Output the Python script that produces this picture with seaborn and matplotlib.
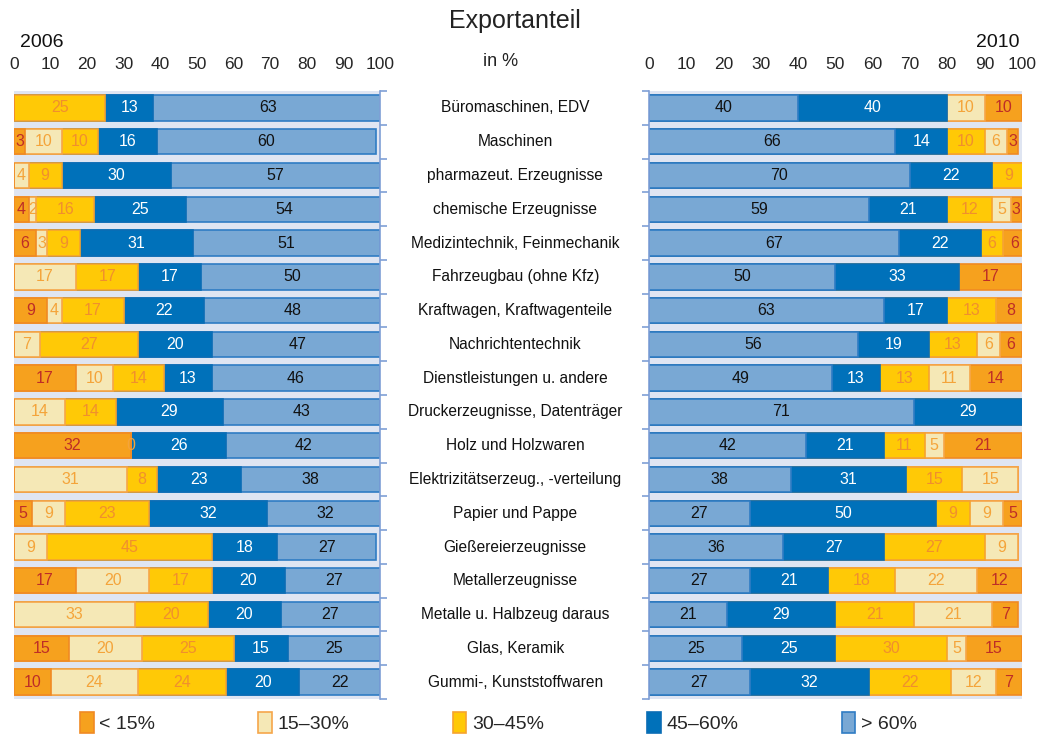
import numpy as np
import pandas as pd
import matplotlib
matplotlib.use('Agg')
import matplotlib.pyplot as plt
import matplotlib.transforms as mtransforms
from matplotlib.patches import Patch
import seaborn as sns

sns.set_theme(style='white')
plt.rcParams['font.family'] = ['Liberation Sans', 'DejaVu Sans']

categories = ['Büromaschinen, EDV', 'Maschinen', 'pharmazeut. Erzeugnisse',
              'chemische Erzeugnisse', 'Medizintechnik, Feinmechanik',
              'Fahrzeugbau (ohne Kfz)', 'Kraftwagen, Kraftwagenteile',
              'Nachrichtentechnik', 'Dienstleistungen u. andere',
              'Druckerzeugnisse, Datenträger', 'Holz und Holzwaren',
              'Elektrizitätserzeug., -verteilung', 'Papier und Pappe',
              'Gießereierzeugnisse', 'Metallerzeugnisse',
              'Metalle u. Halbzeug daraus', 'Glas, Keramik',
              'Gummi-, Kunststoffwaren']
classes = ['< 15%', '15–30%', '30–45%', '45–60%', '> 60%']

# 2006, per class
lt15_2006 = [0, 3, 0, 4, 6, 0, 9, 0, 17, 0, 32, 0, 5, 0, 17, 0, 15, 10]
c15_30_2006 = [0, 10, 4, 2, 3, 17, 4, 7, 10, 14, 0, 31, 9, 9, 20, 33, 20, 24]
c30_45_2006 = [25, 10, 9, 16, 9, 17, 17, 27, 14, 14, 0, 8, 23, 45, 17, 20, 25, 24]
c45_60_2006 = [13, 16, 30, 25, 31, 17, 22, 20, 13, 29, 26, 23, 32, 18, 20, 20, 15, 20]
gt60_2006 = [63, 60, 57, 54, 51, 50, 48, 47, 46, 43, 42, 38, 32, 27, 27, 27, 25, 22]

# 2010, per class
lt15_2010 = [10, 3, 0, 3, 6, 17, 8, 6, 14, 0, 21, 0, 5, 0, 12, 7, 15, 7]
c15_30_2010 = [10, 6, 0, 5, 0, 0, 0, 6, 11, 0, 5, 15, 9, 9, 22, 21, 5, 12]
c30_45_2010 = [0, 10, 9, 12, 6, 0, 13, 13, 13, 0, 11, 15, 9, 27, 18, 21, 30, 22]
c45_60_2010 = [40, 14, 22, 21, 22, 33, 17, 19, 13, 29, 21, 31, 50, 27, 21, 29, 25, 32]
gt60_2010 = [40, 66, 70, 59, 67, 50, 63, 56, 49, 71, 42, 38, 27, 36, 27, 21, 25, 27]

# zero-valued segments that still carry a label (2006, 15–30%)
zero_labels_2006 = ['Holz und Holzwaren']

face = {'< 15%': '#F6A11E', '15–30%': '#F5E8B6', '30–45%': '#FFC906',
        '45–60%': '#0071BA', '> 60%': '#79A8D4'}
edge = {'< 15%': '#F08A24', '15–30%': '#F6A64A', '30–45%': '#F6A330',
        '45–60%': '#0A6DB5', '> 60%': '#2F7CC4'}
txt = {'< 15%': '#BE2D27', '15–30%': '#F4A43A', '30–45%': '#F08F2E',
       '45–60%': 'white', '> 60%': '#111111'}
spine_col = '#7F9FD6'

df06 = pd.DataFrame({'Branche': categories, '< 15%': lt15_2006, '15–30%': c15_30_2006,
                     '30–45%': c30_45_2006, '45–60%': c45_60_2006, '> 60%': gt60_2006})
df10 = pd.DataFrame({'Branche': categories, '> 60%': gt60_2010, '45–60%': c45_60_2010,
                     '30–45%': c30_45_2010, '15–30%': c15_30_2010, '< 15%': lt15_2010})

fig = plt.figure(figsize=(10.43, 7.38), dpi=100)
ax1 = fig.add_axes([0.0134, 0.0528, 0.3509, 0.8238])
ax2 = fig.add_axes([0.6222, 0.0528, 0.3576, 0.8238])


def stacked(ax, df, order, zero_rows=()):
    cum = df[order].cumsum(axis=1)
    # draw from the longest cumulative bar down so shorter ones sit on top
    for cls in reversed(order):
        sns.barplot(data=cum.assign(Branche=df['Branche']), x=cls, y='Branche',
                    orient='h', color=face[cls], edgecolor=edge[cls], linewidth=1.2,
                    width=0.75, saturation=1, ax=ax)
    for i, row in df.iterrows():
        left = 0
        for cls in order:
            v = row[cls]
            if v > 0:
                ax.text(left + v / 2, i, str(v), ha='center', va='center',
                        fontsize=11.5, color=txt[cls])
            elif row['Branche'] in zero_rows and cls == '15–30%':
                ax.text(left, i, '0', ha='center', va='center',
                        fontsize=11.5, color=txt[cls])
            left += v
    ax.set_xlim(0, 100)
    ax.set_ylim(len(df) - 0.5, -0.5)
    ax.set_facecolor('#DFE5F2')
    ax.set_xticks(np.arange(0, 101, 10))
    ax.xaxis.tick_top()
    ax.tick_params(axis='x', length=0, pad=14, labelsize=12.5)
    ax.set_xticks(np.arange(10, 100, 10), minor=True)
    ax.grid(True, axis='x', which='minor', color='white', linewidth=1.8)
    ax.grid(False, axis='x', which='major')
    ax.set_axisbelow(True)
    ax.set_xlabel('')
    ax.set_ylabel('')
    ax.set_yticks([])
    ax.set_yticks(np.arange(-0.5, len(df), 1), minor=True)
    for s in ax.spines.values():
        s.set_visible(False)


stacked(ax1, df06, classes, zero_labels_2006)
stacked(ax2, df10, classes[::-1])

ax1.spines['right'].set_visible(True)
ax1.spines['right'].set_color(spine_col)
ax1.spines['right'].set_linewidth(1.2)
ax1.yaxis.set_ticks_position('right')
ax1.tick_params(axis='y', which='minor', direction='out', length=5, color=spine_col, width=1.2)

ax2.spines['left'].set_visible(True)
ax2.spines['left'].set_color(spine_col)
ax2.spines['left'].set_linewidth(1.2)
ax2.yaxis.set_ticks_position('left')
ax2.tick_params(axis='y', which='minor', direction='out', length=5, color=spine_col, width=1.2)

trans = mtransforms.blended_transform_factory(fig.transFigure, ax1.transData)
for i, name in enumerate(categories):
    ax1.text(0.494, i, name, transform=trans, ha='center', va='center',
             fontsize=11.2, color='#111111', clip_on=False)

fig.text(0.494, 0.972, 'Exportanteil', ha='center', va='center', fontsize=18, color='#222222')
fig.text(0.48, 0.916, 'in %', ha='center', va='center', fontsize=13, color='#222222')
fig.text(0.040, 0.943, '2006', ha='center', va='center', fontsize=14, color='#111111')
fig.text(0.957, 0.943, '2010', ha='center', va='center', fontsize=14, color='#111111')

handles = [Patch(facecolor=face[c], edgecolor=edge[c], linewidth=1.2, label=c) for c in classes]
fig.legend(handles=handles, loc='center', bbox_to_anchor=(0.478, 0.021), ncol=5,
           frameon=False, fontsize=14, handlelength=0.7, handleheight=1.3,
           handletextpad=0.3, columnspacing=5.3)

fig.savefig('out.png', dpi=100)
